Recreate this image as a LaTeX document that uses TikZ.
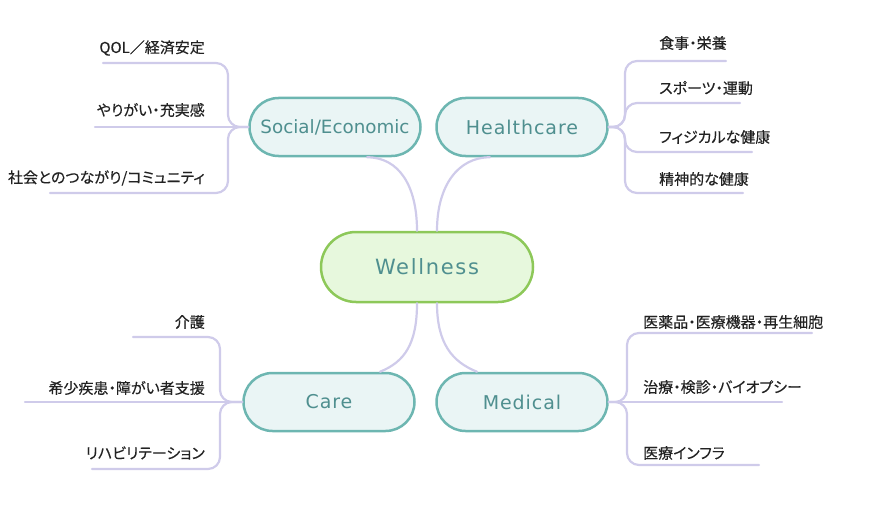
\documentclass[tikz,border=0pt]{standalone}
\usepackage{fontspec}
\setmainfont{DejaVu Sans}
\newfontfamily\jpfont[RawFeature=+palt, FakeBold=0.3]{Noto Sans CJK JP}
\newfontfamily\topicfont[LetterSpace=5]{DejaVu Sans}
\newfontfamily\rootfont[LetterSpace=8]{DejaVu Sans}

\definecolor{branchc}{HTML}{CFCBEA}
\definecolor{tealc}{HTML}{6DB6B1}
\definecolor{tealfill}{HTML}{EAF5F5}
\definecolor{tealtext}{HTML}{4F8F8F}
\definecolor{greenc}{HTML}{8DC859}
\definecolor{greenfill}{HTML}{E7F8DD}
\definecolor{leaftext}{HTML}{222222}

\tikzset{
  topic/.style={draw=tealc, fill=tealfill, line width=2.5pt, text=tealtext,
    minimum width=171pt, minimum height=58pt, rounded corners=29pt, inner sep=0pt,
    font=\topicfont\fontsize{19}{22}\selectfont},
  root/.style={draw=greenc, fill=greenfill, line width=2.5pt, text=tealtext,
    minimum width=212pt, minimum height=70pt, rounded corners=35pt, inner sep=0pt,
    font=\rootfont\fontsize{21}{25}\selectfont},
  leaf/.style={inner sep=0pt, text=leaftext, font=\jpfont\fontsize{15}{18}\selectfont},
  branch/.style={draw=branchc, line width=2.2pt, rounded corners=12pt},
}

\begin{document}
\begin{tikzpicture}[x=1pt, y=-1pt, line cap=round, line join=round]

  %% ════ 中心与四个主题 ════
  \node[root]  (wellness) at (427,267) {Wellness};
  \node[topic, font=\fontsize{18.3}{21}\selectfont] (social) at (335,127) {Social/Economic};
  \node[topic] (health)   at (522,127) {Healthcare};
  \node[topic] (care)     at (329,402) {Care};
  \node[topic] (medical)  at (522,402) {Medical};

  %% ════ 中心 → 主题（曲线）════
  \draw[branch] ([xshift=-10pt]wellness.north) .. controls +(0,-45) and +(32,0) .. ([xshift=32pt]social.south);
  \draw[branch] ([xshift=10pt]wellness.north) .. controls +(0,-45) and +(-32,0) .. ([xshift=-32pt]health.south);
  \draw[branch] ([xshift=-10pt]wellness.south) .. controls +(0,40) and +(25,-10) .. ([xshift=51pt]care.north);
  \draw[branch] ([xshift=10pt]wellness.south) .. controls +(0,40) and +(-25,-10) .. ([xshift=-45pt]medical.north);

  %% ════ 分支节点（交汇点 + 下划线端点）════
  \coordinate (jS) at (228,127);
  \coordinate (jH) at (625,127);
  \coordinate (jC) at (220,402);
  \coordinate (jM) at (627,402);

  \coordinate (s1) at (103,63);
  \coordinate (s2) at (95,127);
  \coordinate (s3) at (50,193);
  \coordinate (h1) at (726,61);
  \coordinate (h2) at (740,103);
  \coordinate (h3) at (752,152);
  \coordinate (h4) at (743,193);
  \coordinate (c1) at (133,337);
  \coordinate (c2) at (25,402);
  \coordinate (c3) at (92,469);
  \coordinate (m1) at (812,333);
  \coordinate (m2) at (782,402);
  \coordinate (m3) at (759,465);

  \draw[branch] (social.west) -- (jS) |- (s1);
  \draw[branch] (social.west) -- (s2);
  \draw[branch] (social.west) -- (jS) |- (s3);

  \draw[branch] (health.east) -- (jH) |- (h1);
  \draw[branch] (health.east) -- (jH) |- (h2);
  \draw[branch] (health.east) -- (jH) |- (h3);
  \draw[branch] (health.east) -- (jH) |- (h4);

  \draw[branch] (care.west) -- (jC) |- (c1);
  \draw[branch] (care.west) -- (c2);
  \draw[branch] (care.west) -- (jC) |- (c3);

  \draw[branch] (medical.east) -- (jM) |- (m1);
  \draw[branch] (medical.east) -- (m2);
  \draw[branch] (medical.east) -- (jM) |- (m3);

  %% ════ 标签 ════
  \node[leaf, anchor=east] (sq) at (205,48)  {QOL／経済安定};
  \node[leaf, anchor=east] (sy) at (205,110) {やりがい・充実感};
  \node[leaf, anchor=east] (sk) at (205,178) {社会とのつながり/コミュニティ};

  \node[leaf, anchor=west] (hs) at (659,43)  {食事・栄養};
  \node[leaf, anchor=west] (hu) at (659,88)  {スポーツ・運動};
  \node[leaf, anchor=west] (hf) at (659,137) {フィジカルな健康};
  \node[leaf, anchor=west] (hm) at (659,179) {精神的な健康};

  \node[leaf, anchor=east] (ck) at (205,322) {介護};
  \node[leaf, anchor=east] (cs) at (205,388) {希少疾患・障がい者支援};
  \node[leaf, anchor=east] (cr) at (205,453) {リハビリテーション};

  \node[leaf, anchor=west] (mi) at (643,322) {医薬品・医療機器・再生細胞};
  \node[leaf, anchor=west] (mt) at (643,387) {治療・検診・バイオプシー};
  \node[leaf, anchor=west] (mf) at (643,453) {医療インフラ};

  % 画布固定
  \pgfresetboundingbox
  \path[use as bounding box] (0,0) rectangle (879,511);
\end{tikzpicture}
\end{document}
